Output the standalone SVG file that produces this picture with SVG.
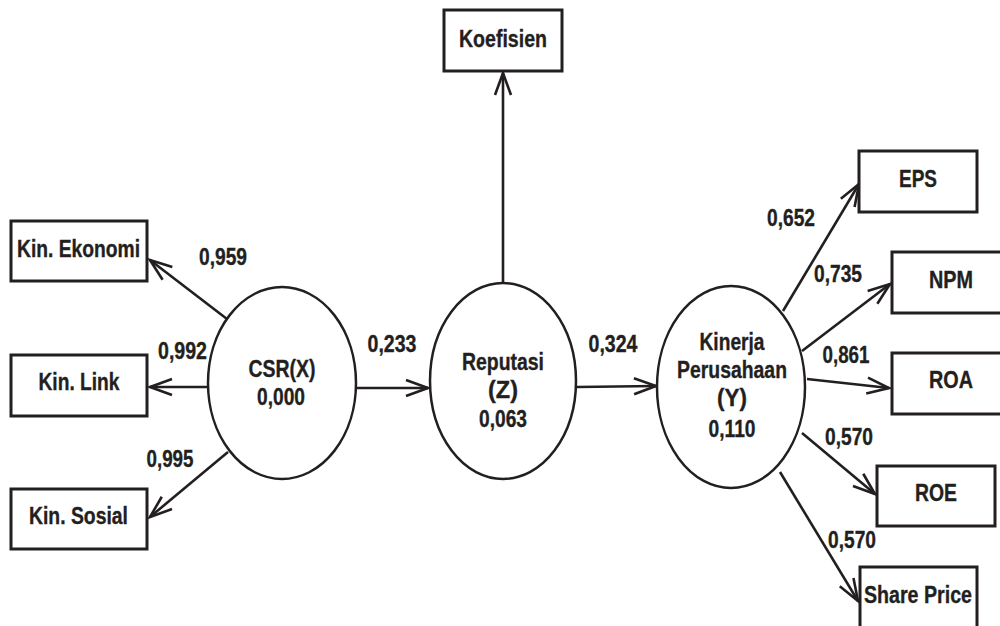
<svg xmlns="http://www.w3.org/2000/svg" width="1000" height="626" viewBox="0 0 1000 626">
<style>
.box{fill:#fff;stroke:#231f20;stroke-width:3}
.ell{fill:#fff;stroke:#231f20;stroke-width:2.5}
.con{stroke:#231f20;stroke-width:2.6;fill:none;marker-end:url(#ah)}
text{font-family:"Liberation Sans",Arial,sans-serif;font-weight:bold;font-size:23.5px;fill:#231f20;stroke:#231f20;stroke-width:0.35;text-anchor:middle}
</style>
<defs>
<marker id="ah" markerUnits="userSpaceOnUse" markerWidth="30" markerHeight="24" refX="0" refY="0" viewBox="-24 -12 30 24" orient="auto" overflow="visible">
<path d="M-22,-8 L0,0 L-22,8" fill="none" stroke="#231f20" stroke-width="2.6"/>
</marker>
</defs>
<rect width="1000" height="626" fill="#fff"/>
<g id="connectors">
<line class="con" x1="227" y1="319" x2="150" y2="260"/>
<line class="con" x1="208" y1="387" x2="150" y2="387"/>
<line class="con" x1="228" y1="452" x2="150" y2="517"/>
<line class="con" x1="355" y1="388" x2="428" y2="388"/>
<line class="con" x1="503" y1="283" x2="503" y2="73"/>
<line class="con" x1="577" y1="387" x2="656" y2="386"/>
<line class="con" x1="783" y1="311" x2="859" y2="184"/>
<line class="con" x1="802" y1="351" x2="890" y2="284"/>
<line class="con" x1="807" y1="379" x2="889" y2="388"/>
<line class="con" x1="802" y1="433" x2="875" y2="494"/>
<line class="con" x1="780" y1="472" x2="858" y2="601"/>
</g>
<g id="labels">
<text x="223" y="265" textLength="48" lengthAdjust="spacingAndGlyphs">0,959</text>
<text x="182.5" y="359" textLength="49" lengthAdjust="spacingAndGlyphs">0,992</text>
<text x="170" y="467" textLength="47" lengthAdjust="spacingAndGlyphs">0,995</text>
<text x="392" y="352" textLength="49" lengthAdjust="spacingAndGlyphs">0,233</text>
<text x="613" y="352" textLength="49" lengthAdjust="spacingAndGlyphs">0,324</text>
<text x="791" y="226" textLength="48" lengthAdjust="spacingAndGlyphs">0,652</text>
<text x="838" y="282" textLength="48" lengthAdjust="spacingAndGlyphs">0,735</text>
<text x="846" y="363" textLength="47" lengthAdjust="spacingAndGlyphs">0,861</text>
<text x="849" y="445" textLength="48" lengthAdjust="spacingAndGlyphs">0,570</text>
<text x="852" y="548" textLength="48" lengthAdjust="spacingAndGlyphs">0,570</text>
</g>
<g id="kin-ekonomi">
<rect class="box" x="11" y="221" width="136" height="60"/>
<text x="78.5" y="257" textLength="123" lengthAdjust="spacingAndGlyphs">Kin. Ekonomi</text>
</g>
<g id="kin-link">
<rect class="box" x="11" y="355" width="136" height="61"/>
<text x="79" y="390" textLength="81" lengthAdjust="spacingAndGlyphs">Kin. Link</text>
</g>
<g id="kin-sosial">
<rect class="box" x="11" y="489" width="136" height="60"/>
<text x="78.5" y="524" textLength="99" lengthAdjust="spacingAndGlyphs">Kin. Sosial</text>
</g>
<g id="csr">
<ellipse class="ell" cx="282" cy="383" rx="74" ry="96"/>
<text x="282" y="377" textLength="67" lengthAdjust="spacingAndGlyphs">CSR(X)</text>
<text x="281" y="405" textLength="48" lengthAdjust="spacingAndGlyphs">0,000</text>
</g>
<g id="koefisien">
<rect class="box" x="444" y="10" width="118" height="61"/>
<text x="503" y="47" textLength="88" lengthAdjust="spacingAndGlyphs">Koefisien</text>
</g>
<g id="reputasi">
<ellipse class="ell" cx="503" cy="381" rx="73" ry="98"/>
<text x="503" y="370" textLength="82" lengthAdjust="spacingAndGlyphs">Reputasi</text>
<text x="503" y="398" textLength="30" lengthAdjust="spacingAndGlyphs">(Z)</text>
<text x="503" y="427" textLength="48" lengthAdjust="spacingAndGlyphs">0,063</text>
</g>
<g id="kinerja">
<ellipse class="ell" cx="731" cy="387" rx="74" ry="101"/>
<text x="732" y="350" textLength="65" lengthAdjust="spacingAndGlyphs">Kinerja</text>
<text x="732" y="378" textLength="110" lengthAdjust="spacingAndGlyphs">Perusahaan</text>
<text x="732" y="406" textLength="30" lengthAdjust="spacingAndGlyphs">(Y)</text>
<text x="732" y="437" textLength="47" lengthAdjust="spacingAndGlyphs">0,110</text>
</g>
<g id="eps">
<rect class="box" x="859" y="151" width="118" height="61"/>
<text x="918" y="187" textLength="38" lengthAdjust="spacingAndGlyphs">EPS</text>
</g>
<g id="npm">
<rect class="box" x="892" y="252" width="118" height="61"/>
<text x="951" y="288" textLength="44" lengthAdjust="spacingAndGlyphs">NPM</text>
</g>
<g id="roa">
<rect class="box" x="892" y="353" width="118" height="61"/>
<text x="951" y="388" textLength="44" lengthAdjust="spacingAndGlyphs">ROA</text>
</g>
<g id="roe">
<rect class="box" x="877" y="466" width="118" height="60"/>
<text x="936" y="501" textLength="42" lengthAdjust="spacingAndGlyphs">ROE</text>
</g>
<g id="share-price">
<rect class="box" x="860" y="567" width="117" height="70"/>
<text x="918" y="603" textLength="108" lengthAdjust="spacingAndGlyphs">Share Price</text>
</g>
</svg>
